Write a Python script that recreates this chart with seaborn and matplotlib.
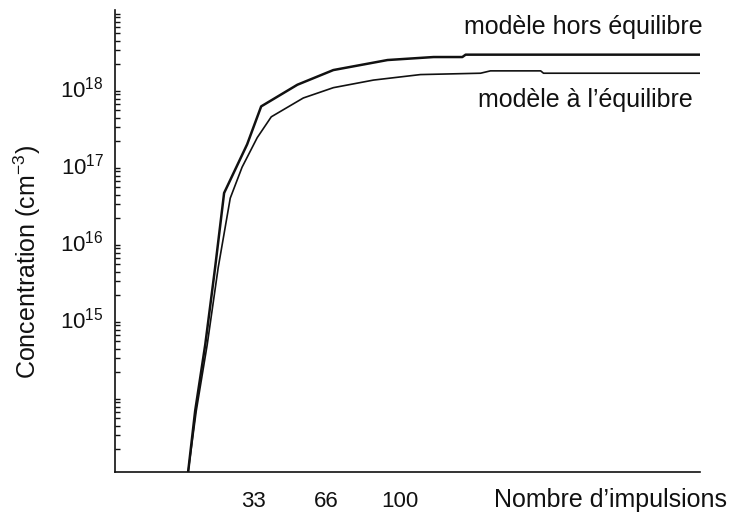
import numpy as np
import pandas as pd
import matplotlib
matplotlib.use('Agg')
import matplotlib.pyplot as plt
import matplotlib.ticker as mticker
from matplotlib.transforms import ScaledTranslation
import seaborn as sns

# Valeurs (x en impulsions, y en cm^-3)
x_hors = [0, 3.2, 7.8, 12.3, 16.4, 26.9, 33.3, 49.8, 66.2, 90.9, 111.9, 125.0, 126.5, 233.3]
y_hors = [1.0e13, 6.2e13, 4.5e14, 4.5e15, 4.2e16, 1.8e17, 5.6e17, 1.07e18, 1.66e18,
          2.24e18, 2.45e18, 2.45e18, 2.63e18, 2.63e18]

x_equi = [0, 3.7, 8.7, 13.7, 19.2, 24.6, 31.5, 37.9, 52.5, 66.2, 84.5, 105.9, 133.3,
          137.8, 160.7, 162.0, 233.3]
y_equi = [1.0e13, 6.2e13, 4.5e14, 4.5e15, 3.6e16, 9.1e16, 2.2e17, 4.1e17, 7.2e17, 9.8e17,
          1.23e18, 1.45e18, 1.51e18, 1.62e18, 1.62e18, 1.51e18, 1.51e18]

x_ticks = [k * 100 / 3 for k in range(-1, 8)]
x_tick_labels = ['', '', '33', '66', '100', '', '', '', '']
y_ticks = [1e13, 1e14, 1e15, 1e16, 1e17, 1e18, 1e19]
y_tick_labels = ['', '', '$10^{15}$', '$10^{16}$', '$10^{17}$', '$10^{18}$', '']

sns.set_theme(style='white')
plt.rcParams['font.family'] = ['Liberation Sans', 'DejaVu Sans']
plt.rcParams['mathtext.default'] = 'regular'

fig = plt.figure(figsize=(7.42, 5.15), dpi=100)
ax = fig.add_axes([115 / 742, 1 - 472 / 515, 585 / 742, 462 / 515])

sns.lineplot(x=x_hors, y=y_hors, ax=ax, color='#111111', linewidth=1.8)
sns.lineplot(x=x_equi, y=y_equi, ax=ax, color='#111111', linewidth=1.2)

ax.set_yscale('log')
ax.set_xlim(-100 / 3, 700 / 3)
ax.set_ylim(1e13, 1e19)

ax.set_xticks(x_ticks)
ax.set_xticklabels(x_tick_labels, fontsize=16)
ax.set_yticks(y_ticks)
ax.set_yticklabels(y_tick_labels, fontsize=16)
ax.yaxis.set_minor_locator(mticker.LogLocator(base=10, subs=np.arange(2, 10)))
ax.yaxis.set_minor_formatter(mticker.NullFormatter())

ax.tick_params(axis='x', direction='in', length=6, width=1.2, pad=14, colors='#111111')
ax.tick_params(axis='y', which='major', direction='in', length=6, width=1.2, pad=8, colors='#111111')
ax.tick_params(axis='y', which='minor', direction='in', length=3.5, width=1, left=True, colors='#111111')

offset = ScaledTranslation(-8 / 100, 0, fig.dpi_scale_trans)
for lab in ax.get_xticklabels():
    lab.set_transform(lab.get_transform() + offset)

for side in ['top', 'right']:
    ax.spines[side].set_visible(False)
for side in ['left', 'bottom']:
    ax.spines[side].set_color('#111111')
    ax.spines[side].set_linewidth(1.2)

ax.set_xlabel('')
ax.set_ylabel('')

fig.text(611 / 742, 1 - 500 / 515, 'Nombre d\u2019impulsions', fontsize=18,
         ha='center', va='center', color='#111111')
fig.text(27 / 742, 1 - 262 / 515, 'Concentration (cm$^{-3}$)', fontsize=18,
         rotation=90, ha='center', va='center', color='#111111')
fig.text(583 / 742, 1 - 27 / 515, 'modèle hors équilibre', fontsize=18,
         ha='center', va='center', color='#111111')
fig.text(585 / 742, 1 - 100 / 515, 'modèle à l\u2019équilibre', fontsize=18,
         ha='center', va='center', color='#111111')

fig.savefig('out.png', dpi=100)
